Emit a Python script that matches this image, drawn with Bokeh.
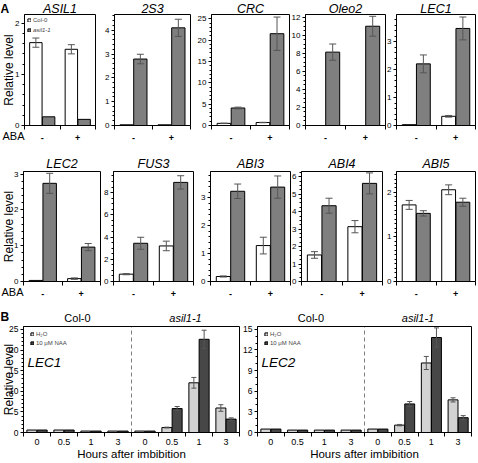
import numpy as np
from bokeh.plotting import figure
from bokeh.models import Range1d, FixedTicker, Label, Legend, LegendItem, BoxAnnotation
from bokeh.layouts import row, column
from bokeh.embed import file_html
from bokeh.resources import INLINE

FONT = "Liberation Sans"
EC = "#555555"
GRAY = "#7f7f7f"
LIGHT = "#d2d2d2"
DARK = "#474747"

# ---------------- data: panel A ----------------
aba_levels = ["-", "+"]
genotypes_a = ["Col-0", "asil1-1"]

asil1_col0 = [1.62, 1.49]; asil1_col0_err = [0.09, 0.09]
asil1_mut = [0.17, 0.12];  asil1_mut_err = [0.0, 0.0]

s2s3_col0 = [0.03, 0.03];  s2s3_col0_err = [0.0, 0.0]
s2s3_mut = [2.79, 4.10];   s2s3_mut_err = [0.20, 0.36]

crc_col0 = [0.5, 0.7];     crc_col0_err = [0.05, 0.05]
crc_mut = [4.1, 21.5];     crc_mut_err = [0.2, 3.9]

oleo2_col0 = [0.0, 0.0];   oleo2_col0_err = [0.0, 0.0]
oleo2_mut = [8.13, 11.0];  oleo2_mut_err = [0.9, 1.1]

lec1_col0 = [0.03, 0.33];  lec1_col0_err = [0.0, 0.03]
lec1_mut = [2.21, 3.48];   lec1_mut_err = [0.32, 0.41]

lec2_col0 = [0.03, 0.08];  lec2_col0_err = [0.0, 0.02]
lec2_mut = [2.74, 0.96];   lec2_mut_err = [0.28, 0.10]

fus3_col0 = [0.66, 3.20];  fus3_col0_err = [0.05, 0.43]
fus3_mut = [3.44, 8.92];   fus3_mut_err = [0.54, 0.60]

abi3_col0 = [0.18, 1.29];  abi3_col0_err = [0.02, 0.30]
abi3_mut = [3.24, 3.39];   abi3_mut_err = [0.26, 0.40]

abi4_col0 = [1.52, 3.14];  abi4_col0_err = [0.19, 0.35]
abi4_mut = [4.34, 5.62];   abi4_mut_err = [0.43, 0.60]

abi5_col0 = [1.72, 2.06];  abi5_col0_err = [0.10, 0.11]
abi5_mut = [1.53, 1.78];   abi5_mut_err = [0.06, 0.09]

# ---------------- data: panel B ----------------
hours = ["0", "0.5", "1", "3"]
genotypes_b = ["Col-0", "asil1-1"]
treatments = ["H\u2082O", "10 \u03bcM NAA"]

b_lec1_h2o = [0.6, 0.6, 0.35, 0.35, 0.35, 1.2, 12.05, 5.94]
b_lec1_h2o_err = [0, 0, 0, 0, 0, 0.1, 1.3, 0.8]
b_lec1_naa = [0.6, 0.6, 0.35, 0.35, 0.35, 5.8, 22.6, 3.25]
b_lec1_naa_err = [0, 0, 0, 0, 0, 0.5, 2.2, 0.3]

b_lec2_h2o = [0.5, 0.35, 0.35, 0.35, 0.5, 1.07, 10.1, 4.74]
b_lec2_h2o_err = [0, 0, 0, 0, 0, 0.1, 0.95, 0.3]
b_lec2_naa = [0.5, 0.35, 0.35, 0.35, 0.5, 4.15, 13.8, 2.15]
b_lec2_naa_err = [0, 0, 0, 0, 0, 0.35, 1.4, 0.3]


def make_fig(lb, fw, rb, top, fh, bottom, x0, x1, ymax):
    """Whole canvas is the plotting frame; the panel box and axes are drawn
    at fixed data locations so that all texts stay inside the frame."""
    sx = (x1 - x0) / fw
    sy = ymax / fh
    p = figure(width=lb + fw + rb, height=top + fh + bottom, title=None,
               x_range=Range1d(x0 - lb * sx, x1 + rb * sx),
               y_range=Range1d(-bottom * sy, ymax + top * sy),
               output_backend="svg", toolbar_location=None,
               min_border_left=0, min_border_right=0,
               min_border_top=0, min_border_bottom=0)
    p.xgrid.visible = False
    p.ygrid.visible = False
    p.outline_line_color = None
    xa, ya = p.xaxis[0], p.yaxis[0]
    xa.fixed_location = 0
    xa.bounds = (x0, x1)
    ya.fixed_location = x0
    ya.bounds = (0, ymax)
    for ax in (xa, ya):
        ax.axis_line_color = "black"
        ax.major_tick_line_color = "black"
        ax.minor_tick_line_color = "black"
        ax.major_label_text_font = FONT
        ax.major_label_text_color = "black"
    p.add_layout(BoxAnnotation(left=x0, right=x1, bottom=0, top=ymax,
                               fill_color=None, fill_alpha=0,
                               line_color="black", line_width=1, line_alpha=1))

    def lab(dx, dy, text, **kw):
        # dx: px right of box left edge, dy: px above box bottom edge
        kw.setdefault("text_baseline", "middle")
        kw.setdefault("text_color", "black")
        p.add_layout(Label(x=x0 + dx * sx, y=dy * sy, text=text, text_font=FONT, **kw))

    return p, lab


def style_y(p, ticks, minor_step, size="8px"):
    ax = p.yaxis[0]
    ymax = ax.bounds[1]
    ax.ticker = FixedTicker(ticks=ticks, minor_ticks=list(np.arange(0, ymax, minor_step)))
    ax.major_tick_out = 3
    ax.major_tick_in = 0
    ax.minor_tick_out = 2
    ax.minor_tick_in = 0
    ax.major_label_standoff = 2
    ax.major_label_text_font_size = size


def style_x(p, centers, labels, standoff, size, bold):
    ax = p.xaxis[0]
    n = len(centers)
    ax.ticker = FixedTicker(ticks=list(centers), minor_ticks=list(np.arange(n + 1.0)))
    ax.major_label_overrides = {float(c): t for c, t in zip(centers, labels)}
    ax.major_tick_out = 0
    ax.major_tick_in = 0
    ax.minor_tick_out = 4
    ax.minor_tick_in = 0
    ax.major_label_standoff = standoff
    ax.major_label_text_font_size = size
    if bold:
        ax.major_label_text_font_style = "bold"


def add_err(p, x, v, e, hw):
    x = np.asarray(x, float); v = np.asarray(v, float); e = np.asarray(e, float)
    m = e > 0
    if not m.any():
        return
    x, v, e = x[m], v[m], e[m]
    p.segment(x0=x, y0=v - e, x1=x, y1=v + e, line_color=EC, line_width=1)
    p.segment(x0=x - hw, y0=v + e, x1=x + hw, y1=v + e, line_color=EC, line_width=1)
    p.segment(x0=x - hw, y0=v - e, x1=x + hw, y1=v - e, line_color=EC, line_width=1)


def legend_box(items, loc, spacing=0, italic=False):
    return Legend(items=items, location=loc, orientation="vertical",
                  glyph_width=4, glyph_height=4, label_height=6, label_width=10,
                  label_standoff=2, padding=0, margin=0, spacing=spacing,
                  border_line_alpha=0, background_fill_alpha=0,
                  label_text_font=FONT, label_text_font_size="6px",
                  label_text_font_style="italic" if italic else "normal",
                  label_text_baseline="middle")


def panel_a(gene, col0, col0_err, mut, mut_err, ymax, yticks, ystep, lb, fw,
            top, fh, bottom, title_dy, xstandoff, first=False, letter=None, legend=False):
    n = len(aba_levels)
    p, lab = make_fig(lb, fw, 1, top, fh, bottom, 0, n, ymax)
    xc = np.arange(n) + 0.5
    rw = p.vbar(x=xc - 0.18, top=col0, width=0.35, fill_color="white",
                line_color="black", line_width=1)
    rg = p.vbar(x=xc + 0.18, top=mut, width=0.35, fill_color=GRAY,
                line_color="black", line_width=1)
    hw = 3.5 * n / fw
    add_err(p, xc - 0.18, col0, col0_err, hw)
    add_err(p, xc + 0.18, mut, mut_err, hw)
    style_y(p, yticks, ystep)
    style_x(p, xc, aba_levels, xstandoff, "9px", True)
    lab(fw / 2, fh + title_dy, gene, text_align="center",
        text_font_style="italic", text_font_size="12.5px")
    if first:
        lab(8 - lb, fh / 2, "Relative level", text_align="center", angle=np.pi / 2,
            text_font_size="12px")
        lab(0, -10, "ABA", text_align="right", text_font_size="11px")
    if letter:
        lab(-lb, fh + title_dy, letter, text_align="left",
            text_font_style="bold", text_font_size="12px")
    if legend:
        p.add_layout(legend_box([LegendItem(label=genotypes_a[0], renderers=[rw])],
                                (lb + 3, bottom + fh - 9)))
        p.add_layout(legend_box([LegendItem(label=genotypes_a[1], renderers=[rg])],
                                (lb + 3, bottom + fh - 19), italic=True))
    return p


def panel_b(gene, h2o, h2o_err, naa, naa_err, ymax, yticks, ystep, lb, fw, rb,
            top, fh, bottom, first=False, letter=None):
    n = len(hours) * len(genotypes_b)
    p, lab = make_fig(lb, fw, rb, top, fh, bottom, 0, n, ymax)
    xc = np.arange(n) + 0.5
    r1 = p.vbar(x=xc - 0.19, top=h2o, width=0.37, fill_color=LIGHT,
                line_color="black", line_width=1)
    r2 = p.vbar(x=xc + 0.19, top=naa, width=0.37, fill_color=DARK,
                line_color="black", line_width=1)
    hw = 2.5 * n / fw
    add_err(p, xc - 0.19, h2o, h2o_err, hw)
    add_err(p, xc + 0.19, naa, naa_err, hw)
    split = float(len(hours))
    p.segment(x0=[split], y0=[0], x1=[split], y1=[ymax], line_color="#808080",
              line_dash="4 3", line_width=1)
    style_y(p, yticks, ystep, size="8.5px")
    style_x(p, xc, hours * len(genotypes_b), 2, "9px", False)
    lab(fw / 2, -21, "Hours after imbibition", text_align="center", text_font_size="11.5px")
    for k, g in enumerate(genotypes_b):
        lab(fw * (k + 0.5) / len(genotypes_b), fh + 9, g, text_align="center",
            text_font_size="11px", text_font_style="italic" if k == 1 else "normal")
    lab(4, fh - 36, gene, text_align="left", text_font_style="italic",
        text_font_size="13.5px")
    p.add_layout(legend_box([LegendItem(label=treatments[0], renderers=[r1]),
                             LegendItem(label=treatments[1], renderers=[r2])],
                            (lb + 7, bottom + fh - 20), spacing=3))
    if first:
        lab(8 - lb, fh / 2, "Relative level", text_align="center", angle=np.pi / 2,
            text_font_size="12px")
    if letter:
        lab(-lb, fh + 10, letter, text_align="left",
            text_font_style="bold", text_font_size="12px")
    return p


R1 = dict(top=14, fh=111, bottom=23, title_dy=6, xstandoff=5)
R2 = dict(top=23, fh=110, bottom=21, title_dy=8, xstandoff=5)

row1 = [
    panel_a("ASIL1", asil1_col0, asil1_col0_err, asil1_mut, asil1_mut_err, 2.17, [0, 1, 2], 0.2,
            24, 71, first=True, letter="A", legend=True, **R1),
    panel_a("2S3", s2s3_col0, s2s3_col0_err, s2s3_mut, s2s3_mut_err, 4.66, [0, 1, 2, 3, 4], 0.2,
            18, 76, **R1),
    panel_a("CRC", crc_col0, crc_col0_err, crc_mut, crc_mut_err, 26, [0, 5, 10, 15, 20, 25], 1,
            20, 78, **R1),
    panel_a("Oleo2", oleo2_col0, oleo2_col0_err, oleo2_mut, oleo2_mut_err, 12.3,
            [0, 2, 4, 6, 8, 10, 12], 0.5, 15, 80, **R1),
    panel_a("LEC1", lec1_col0, lec1_col0_err, lec1_mut, lec1_mut_err, 3.98, [0, 1, 2, 3], 0.2,
            10, 79, **R1),
]
row2 = [
    panel_a("LEC2", lec2_col0, lec2_col0_err, lec2_mut, lec2_mut_err, 3.07, [0, 1, 2, 3], 0.2,
            23, 77, first=True, **R2),
    panel_a("FUS3", fus3_col0, fus3_col0_err, fus3_mut, fus3_mut_err, 9.9, [0, 2, 4, 6, 8], 0.5,
            12, 80, **R2),
    panel_a("ABI3", abi3_col0, abi3_col0_err, abi3_mut, abi3_mut_err, 3.95, [0, 1, 2, 3], 0.2,
            16, 80, **R2),
    panel_a("ABI4", abi4_col0, abi4_col0_err, abi4_mut, abi4_mut_err, 6.3,
            [0, 1, 2, 3, 4, 5, 6], 0.25, 10, 81, **R2),
    panel_a("ABI5", abi5_col0, abi5_col0_err, abi5_mut, abi5_mut_err, 2.47, [0, 1, 2], 0.1,
            13, 79, **R2),
]
RB = dict(top=24, fh=106, bottom=29)
row3 = [
    panel_b("LEC1", b_lec1_h2o, b_lec1_h2o_err, b_lec1_naa, b_lec1_naa_err, 25.7,
            [0, 5, 10, 15, 20, 25], 1, 23, 216, 1, first=True, letter="B", **RB),
    panel_b("LEC2", b_lec2_h2o, b_lec2_h2o_err, b_lec2_naa, b_lec2_naa_err, 15.4,
            [0, 3, 6, 9, 12, 15], 1, 17, 214, 5, **RB),
]

layout = column(row(*row1), row(*row2), row(*row3))
open("out.html", "w").write(file_html(layout, INLINE))
